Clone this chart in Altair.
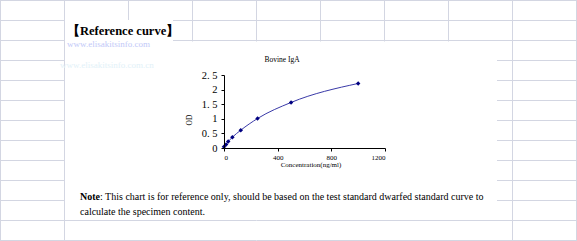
import altair as alt
import pandas as pd

# ---- data ----
conc = [0, 15.6, 31.25, 62.5, 125, 250, 500, 1000]
od = [0.04, 0.12, 0.22, 0.37, 0.61, 1.01, 1.56, 2.21]
x_ticks = [0, 400, 800, 1200]
y_ticks = [0, 0.5, 1, 1.5, 2, 2.5]

chart_title = "Bovine IgA"
x_title = "Concentration(ng/ml)"
y_title = "OD"
heading = "【Reference curve】"
note_bold = "Note"
note_line1 = ": This chart is for reference only, should be based on the test standard dwarfed standard curve to"
note_line2 = "calculate the specimen content."
wm1 = "www.elisakitsinfo.com"
wm2 = "www.elisakitsinfo.com.cn"

# ---- layout (page pixels) ----
W, H = 577, 241
OX, OY = 224, 75          # plot origin on the page
PW, PH = 161, 73          # plot area size
GRID = "#d3d6e2"
SERIF = "Liberation Serif"

def px(v):
    return v - OX

def py(v):
    return v - OY

one = pd.DataFrame({"k": [0]})

# spreadsheet grid segments (x1, x2, y1, y2) in page pixels, skipping the pasted picture
segs = []
for gx in [0.5, 64.5, 512.5, 576.5]:
    segs.append((gx, gx, 0, H))
segs.append((128.5, 128.5, 0, 20))
for gx in [192.5, 256.5, 320.5, 384.5, 448.5]:
    segs.append((gx, gx, 0, 41.5))
segs.append((0, W, 0.5, 0.5))
for gy in [20.5, 40.5]:
    segs.append((0, 64, gy, gy))
    segs.append((173, W, gy, gy))
for gy in [60.5, 80.5, 100.5, 120.5, 140.5, 160.5, 180.5, 200.5]:
    segs.append((0, 64.5, gy, gy))
    segs.append((497, W, gy, gy))
for gy in [220.5, 240.5]:
    segs.append((0, W, gy, gy))

deco = []
for (x1, x2, y1, y2) in segs:
    deco.append(alt.Chart(one).mark_rule(color=GRID, strokeWidth=1).encode(
        x=alt.value(px(x1)), x2=alt.value(px(x2)),
        y=alt.value(py(y1)), y2=alt.value(py(y2))))


def txt(s, x, y, size, align="left", weight="normal", color="black", angle=0, font=SERIF):
    kw = dict(text=s, fontSize=size, align=align, baseline="middle",
              fontWeight=weight, color=color, font=font)
    if angle:
        kw["angle"] = angle
    return alt.Chart(one).mark_text(**kw).encode(x=alt.value(px(x)), y=alt.value(py(y)))


texts = [
    txt(heading, 67, 31, 12.5, weight="bold"),
    txt(wm1, 67, 44, 9, color="#c2c9f8"),
    txt(wm2, 60, 65, 9, color="#e2f1f8"),
    txt(chart_title, 282, 60, 7.5, align="center"),
    txt(y_title, 190, 120, 7.5, align="center", angle=270),
    txt(x_title, 311, 165, 7, align="center"),
    txt(note_bold, 80, 197, 10, weight="bold"),
    txt(note_line1, 100, 197, 10),
    txt(note_line2, 80, 212, 10),
]

df = pd.DataFrame({"conc": conc, "od": od})
base = alt.Chart(df).encode(
    x=alt.X("conc:Q",
            scale=alt.Scale(domain=[0, 1200], nice=False, zero=True),
            axis=alt.Axis(values=x_ticks, title=None, labelFontSize=7, format="d",
                          labelPadding=2, zindex=1)),
    y=alt.Y("od:Q",
            scale=alt.Scale(domain=[0, 2.5], nice=False),
            axis=alt.Axis(values=y_ticks, title=None, labelFontSize=10.5, labelPadding=4, zindex=1,
                          labelExpr="replace(format(datum.value, '~g'), '.', '. ')")),
)
line = base.mark_line(color="#3a3aa8", strokeWidth=1, interpolate="monotone")
pts = base.mark_point(shape="diamond", filled=True, color="#000080", size=20, opacity=1)

chart = alt.layer(line, pts, *deco, *texts).properties(
    width=PW, height=PH,
    padding={"left": OX, "top": OY, "right": W - OX - PW, "bottom": H - OY - PH},
    autosize=alt.AutoSizeParams(type="none"),
    background="white",
).configure_view(stroke=None).configure_axis(
    grid=False, domainColor="black", tickColor="black", labelColor="black",
    labelFont=SERIF, tickSize=3, domainWidth=1, tickWidth=1,
)

chart.save("out.html", embed_options={"renderer": "svg", "actions": False})
